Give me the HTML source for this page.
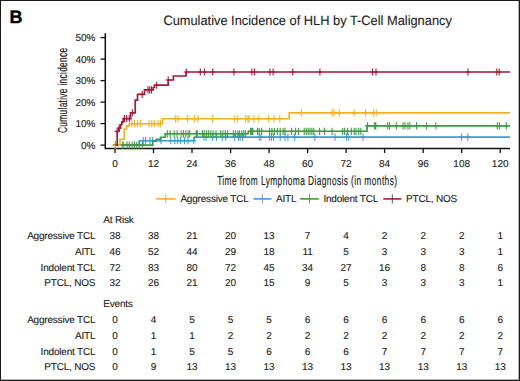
<!DOCTYPE html>
<html><head><meta charset="utf-8"><style>
html,body{margin:0;padding:0;background:#fff;}
#wrap{position:relative;width:520px;height:381px;overflow:hidden;background:#fff;}
#wrap:after{content:"";position:absolute;left:0;top:0;right:0;bottom:0;border:1px solid #1a1a1a;box-shadow:inset -1px -1px 0 rgba(0,0,0,0.3);}
svg{position:absolute;left:0;top:0;}
text{font-family:"Liberation Sans",sans-serif;fill:#222;stroke:#222;stroke-width:0.12px;text-rendering:geometricPrecision;}
.tk{font-size:10px;}
.lg{font-size:10px;letter-spacing:-0.2px;}
.tb{font-size:10px;letter-spacing:-0.2px;}
.tn{font-size:10px;}
.ti{font-size:13.5px;stroke:#222;stroke-width:0.1px;}
.ax{font-size:13px;stroke:#222;stroke-width:0.18px;}
.B{font-size:18px;font-weight:bold;fill:#000;stroke:#000;stroke-width:0.35px;}
</style></head><body><div id="wrap">
<svg width="520" height="381" viewBox="0 0 520 381">
<path d="M105.3 33.3V148.4H510" fill="none" stroke="#111" stroke-width="1.5"/>
<path d="M100.5 37.6H105" stroke="#111" stroke-width="1.3"/>
<text x="95.5" y="41.2" text-anchor="end" class="tk">50%</text>
<path d="M100.5 59.1H105" stroke="#111" stroke-width="1.3"/>
<text x="95.5" y="62.7" text-anchor="end" class="tk">40%</text>
<path d="M100.5 80.6H105" stroke="#111" stroke-width="1.3"/>
<text x="95.5" y="84.2" text-anchor="end" class="tk">30%</text>
<path d="M100.5 102.1H105" stroke="#111" stroke-width="1.3"/>
<text x="95.5" y="105.7" text-anchor="end" class="tk">20%</text>
<path d="M100.5 123.6H105" stroke="#111" stroke-width="1.3"/>
<text x="95.5" y="127.2" text-anchor="end" class="tk">10%</text>
<path d="M100.5 145.1H105" stroke="#111" stroke-width="1.3"/>
<text x="95.5" y="148.7" text-anchor="end" class="tk">0%</text>
<path d="M115.0 148.4V153.1" stroke="#111" stroke-width="1.3"/>
<text x="115.0" y="166.7" text-anchor="middle" class="tk">0</text>
<path d="M153.5 148.4V153.1" stroke="#111" stroke-width="1.3"/>
<text x="153.5" y="166.7" text-anchor="middle" class="tk">12</text>
<path d="M192.0 148.4V153.1" stroke="#111" stroke-width="1.3"/>
<text x="192.0" y="166.7" text-anchor="middle" class="tk">24</text>
<path d="M230.6 148.4V153.1" stroke="#111" stroke-width="1.3"/>
<text x="230.6" y="166.7" text-anchor="middle" class="tk">36</text>
<path d="M269.1 148.4V153.1" stroke="#111" stroke-width="1.3"/>
<text x="269.1" y="166.7" text-anchor="middle" class="tk">48</text>
<path d="M307.6 148.4V153.1" stroke="#111" stroke-width="1.3"/>
<text x="307.6" y="166.7" text-anchor="middle" class="tk">60</text>
<path d="M346.1 148.4V153.1" stroke="#111" stroke-width="1.3"/>
<text x="346.1" y="166.7" text-anchor="middle" class="tk">72</text>
<path d="M384.6 148.4V153.1" stroke="#111" stroke-width="1.3"/>
<text x="384.6" y="166.7" text-anchor="middle" class="tk">84</text>
<path d="M423.2 148.4V153.1" stroke="#111" stroke-width="1.3"/>
<text x="423.2" y="166.7" text-anchor="middle" class="tk">96</text>
<path d="M461.7 148.4V153.1" stroke="#111" stroke-width="1.3"/>
<text x="461.7" y="166.7" text-anchor="middle" class="tk">108</text>
<path d="M500.2 148.4V153.1" stroke="#111" stroke-width="1.3"/>
<text x="500.2" y="166.7" text-anchor="middle" class="tk">120</text>
<path d="M115.5 145.1H139.3V140.7H194.4V137.1H510" fill="none" stroke="#3a9dd8" stroke-width="1.6"/>
<path d="M122.8 141.5V148.7M120.2 145.1H125.4M143.2 137.1V144.3M140.6 140.7H145.8M145.5 137.1V144.3M142.9 140.7H148.1M150.0 137.1V144.3M147.4 140.7H152.6M152.4 137.1V144.3M149.8 140.7H155.0M161.0 137.1V144.3M158.4 140.7H163.6M170.8 137.1V144.3M168.2 140.7H173.4M174.8 137.1V144.3M172.2 140.7H177.4M177.7 137.1V144.3M175.1 140.7H180.3M180.6 137.1V144.3M178.0 140.7H183.2M184.6 137.1V144.3M182.0 140.7H187.2M188.0 137.1V144.3M185.4 140.7H190.6M193.8 137.1V144.3M191.2 140.7H196.4M204.0 133.5V140.7M201.4 137.1H206.6M206.2 133.5V140.7M203.6 137.1H208.8M212.5 133.5V140.7M209.9 137.1H215.1M216.5 133.5V140.7M213.9 137.1H219.1M222.3 133.5V140.7M219.7 137.1H224.9M225.8 133.5V140.7M223.2 137.1H228.4M234.4 133.5V140.7M231.8 137.1H237.0M238.5 133.5V140.7M235.9 137.1H241.1M240.2 133.5V140.7M237.6 137.1H242.8M242.5 133.5V140.7M239.9 137.1H245.1M259.2 133.5V140.7M256.6 137.1H261.8M261.0 133.5V140.7M258.4 137.1H263.6M269.6 133.5V140.7M267.0 137.1H272.2M271.5 133.5V140.7M268.9 137.1H274.1M273.5 133.5V140.7M270.9 137.1H276.1M280.2 133.5V140.7M277.6 137.1H282.8M285.0 133.5V140.7M282.4 137.1H287.6M287.9 133.5V140.7M285.3 137.1H290.5M294.6 133.5V140.7M292.0 137.1H297.2M314.8 133.5V140.7M312.2 137.1H317.4M335.0 133.5V140.7M332.4 137.1H337.6M346.5 133.5V140.7M343.9 137.1H349.1M348.8 133.5V140.7M346.2 137.1H351.4M363.0 133.5V140.7M360.4 137.1H365.6M461.6 133.5V140.7M459.0 137.1H464.2M467.8 133.5V140.7M465.2 137.1H470.4" fill="none" stroke="#3a9dd8" stroke-width="1.1"/>
<path d="M115.5 145.1H152.8V141.3H156.0V139.2H160.5V137.2H165.2V133.8H248.3V131.3H367.0V125.9H510" fill="none" stroke="#3f9a45" stroke-width="1.6"/>
<path d="M115.4 141.0V148.2M112.8 144.6H118.0M123.0 141.5V148.7M120.4 145.1H125.6M127.0 141.5V148.7M124.4 145.1H129.6M129.3 141.5V148.7M126.7 145.1H131.9M132.2 141.5V148.7M129.6 145.1H134.8M134.5 141.5V148.7M131.9 145.1H137.1M136.8 141.5V148.7M134.2 145.1H139.4M139.2 141.5V148.7M136.6 145.1H141.8M142.6 141.5V148.7M140.0 145.1H145.2M167.3 130.2V137.4M164.7 133.8H169.9M170.2 130.2V137.4M167.6 133.8H172.8M174.2 130.2V137.4M171.6 133.8H176.8M177.1 130.2V137.4M174.5 133.8H179.7M181.2 130.2V137.4M178.6 133.8H183.8M183.5 130.2V137.4M180.9 133.8H186.1M185.8 130.2V137.4M183.2 133.8H188.4M188.1 130.2V137.4M185.5 133.8H190.7M189.8 130.2V137.4M187.2 133.8H192.4M196.2 130.2V137.4M193.6 133.8H198.8M197.3 130.2V137.4M194.7 133.8H199.9M202.5 130.2V137.4M199.9 133.8H205.1M204.2 130.2V137.4M201.6 133.8H206.8M206.6 130.2V137.4M204.0 133.8H209.2M208.5 130.2V137.4M205.9 133.8H211.1M210.8 130.2V137.4M208.2 133.8H213.4M213.1 130.2V137.4M210.5 133.8H215.7M216.0 130.2V137.4M213.4 133.8H218.6M220.6 130.2V137.4M218.0 133.8H223.2M222.9 130.2V137.4M220.3 133.8H225.5M225.2 130.2V137.4M222.6 133.8H227.8M227.5 130.2V137.4M224.9 133.8H230.1M233.3 130.2V137.4M230.7 133.8H235.9M235.6 130.2V137.4M233.0 133.8H238.2M237.9 130.2V137.4M235.3 133.8H240.5M239.6 130.2V137.4M237.0 133.8H242.2M241.9 130.2V137.4M239.3 133.8H244.5M243.7 130.2V137.4M241.1 133.8H246.3M245.4 130.2V137.4M242.8 133.8H248.0M250.6 127.7V134.9M248.0 131.3H253.2M251.7 127.7V134.9M249.1 131.3H254.3M252.9 127.7V134.9M250.3 131.3H255.5M257.5 127.7V134.9M254.9 131.3H260.1M259.2 127.7V134.9M256.6 131.3H261.8M261.7 127.7V134.9M259.1 131.3H264.3M269.6 127.7V134.9M267.0 131.3H272.2M271.9 127.7V134.9M269.3 131.3H274.5M274.4 127.7V134.9M271.8 131.3H277.0M277.3 127.7V134.9M274.7 131.3H279.9M280.2 127.7V134.9M277.6 131.3H282.8M283.1 127.7V134.9M280.5 131.3H285.7M285.0 127.7V134.9M282.4 131.3H287.6M291.7 127.7V134.9M289.1 131.3H294.3M295.6 127.7V134.9M293.0 131.3H298.2M298.5 127.7V134.9M295.9 131.3H301.1M304.2 127.7V134.9M301.6 131.3H306.8M306.2 127.7V134.9M303.6 131.3H308.8M308.1 127.7V134.9M305.5 131.3H310.7M310.0 127.7V134.9M307.4 131.3H312.6M311.9 127.7V134.9M309.3 131.3H314.5M313.8 127.7V134.9M311.2 131.3H316.4M319.6 127.7V134.9M317.0 131.3H322.2M324.4 127.7V134.9M321.8 131.3H327.0M332.1 127.7V134.9M329.5 131.3H334.7M342.7 127.7V134.9M340.1 131.3H345.3M344.6 127.7V134.9M342.0 131.3H347.2M347.5 127.7V134.9M344.9 131.3H350.1M351.3 127.7V134.9M348.7 131.3H353.9M354.2 127.7V134.9M351.6 131.3H356.8M356.0 127.7V134.9M353.4 131.3H358.6M358.8 127.7V134.9M356.2 131.3H361.4M360.8 127.7V134.9M358.2 131.3H363.4M367.5 122.3V129.5M364.9 125.9H370.1M374.6 122.3V129.5M372.0 125.9H377.2M375.8 122.3V129.5M373.2 125.9H378.4M387.7 122.3V129.5M385.1 125.9H390.3M389.6 122.3V129.5M387.0 125.9H392.2M396.3 122.3V129.5M393.7 125.9H398.9M403.0 122.3V129.5M400.4 125.9H405.6M405.0 122.3V129.5M402.4 125.9H407.6M407.9 122.3V129.5M405.3 125.9H410.5M409.8 122.3V129.5M407.2 125.9H412.4M416.5 122.3V129.5M413.9 125.9H419.1M426.5 122.3V129.5M423.9 125.9H429.1M435.8 122.3V129.5M433.2 125.9H438.4M497.3 122.3V129.5M494.7 125.9H499.9M499.4 122.3V129.5M496.8 125.9H502.0M506.3 122.3V129.5M503.7 125.9H508.9" fill="none" stroke="#3f9a45" stroke-width="1.1"/>
<path d="M115.5 145.1H120.0V139.3H124.2V129.0H126.6V125.9H129.3V123.7H162.5V118.8H289.2V112.9H510" fill="none" stroke="#efb31c" stroke-width="1.6"/>
<path d="M115.2 141.7V148.9M112.6 145.3H117.8M131.8 120.1V127.3M129.2 123.7H134.4M134.4 120.1V127.3M131.8 123.7H137.0M137.6 120.1V127.3M135.0 123.7H140.2M140.7 120.1V127.3M138.1 123.7H143.3M149.1 120.1V127.3M146.5 123.7H151.7M151.8 120.1V127.3M149.2 123.7H154.4M154.4 120.1V127.3M151.8 123.7H157.0M158.1 120.1V127.3M155.5 123.7H160.7M160.4 120.1V127.3M157.8 123.7H163.0M175.6 115.2V122.4M173.0 118.8H178.2M177.9 115.2V122.4M175.3 118.8H180.5M187.5 115.2V122.4M184.9 118.8H190.1M194.6 115.2V122.4M192.0 118.8H197.2M198.0 115.2V122.4M195.4 118.8H200.6M212.6 115.2V122.4M210.0 118.8H215.2M234.7 115.2V122.4M232.1 118.8H237.3M237.6 115.2V122.4M235.0 118.8H240.2M245.5 115.2V122.4M242.9 118.8H248.1M247.8 115.2V122.4M245.2 118.8H250.4M249.2 115.2V122.4M246.6 118.8H251.8M254.0 115.2V122.4M251.4 118.8H256.6M258.8 115.2V122.4M256.2 118.8H261.4M268.6 115.2V122.4M266.0 118.8H271.2M274.0 115.2V122.4M271.4 118.8H276.6M279.8 115.2V122.4M277.2 118.8H282.4M301.3 109.3V116.5M298.7 112.9H303.9M332.1 109.3V116.5M329.5 112.9H334.7M334.0 109.3V116.5M331.4 112.9H336.6M339.2 109.3V116.5M336.6 112.9H341.8M354.2 109.3V116.5M351.6 112.9H356.8M365.6 109.3V116.5M363.0 112.9H368.2M373.3 109.3V116.5M370.7 112.9H375.9M376.2 109.3V116.5M373.6 112.9H378.8" fill="none" stroke="#efb31c" stroke-width="1.1"/>
<path d="M115.5 145.1H117.2V131.4H118.8V128.0H120.4V124.6H121.9V121.8H123.3V118.7H130.6V112.8H135.2V100.2H137.5V94.4H144.5V89.8H153.2V87.5H154.5V85.2H168.2V80.0H173.4V76.0H186.0V72.0H510" fill="none" stroke="#a31a3b" stroke-width="1.7"/>
<path d="M117.2 127.8V135.0M114.6 131.4H119.8M119.2 124.4V131.6M116.6 128.0H121.8M124.5 115.1V122.3M121.9 118.7H127.1M126.7 115.1V122.3M124.1 118.7H129.3M129.3 115.1V122.3M126.7 118.7H131.9M132.3 109.2V116.4M129.7 112.8H134.9M142.2 90.8V98.0M139.6 94.4H144.8M148.0 86.2V93.4M145.4 89.8H150.6M149.7 86.2V93.4M147.1 89.8H152.3M151.5 86.2V93.4M148.9 89.8H154.1M156.7 81.6V88.8M154.1 85.2H159.3M168.2 76.4V83.6M165.6 80.0H170.8M186.3 68.4V75.6M183.7 72.0H188.9M200.3 68.4V75.6M197.7 72.0H202.9M204.5 68.4V75.6M201.9 72.0H207.1M212.7 68.4V75.6M210.1 72.0H215.3M233.9 68.4V75.6M231.3 72.0H236.5M251.9 68.4V75.6M249.3 72.0H254.5M254.5 68.4V75.6M251.9 72.0H257.1M269.9 68.4V75.6M267.3 72.0H272.5M273.1 68.4V75.6M270.5 72.0H275.7M292.7 68.4V75.6M290.1 72.0H295.3M319.9 68.4V75.6M317.3 72.0H322.5M372.6 68.4V75.6M370.0 72.0H375.2M376.0 68.4V75.6M373.4 72.0H378.6M467.9 68.4V75.6M465.3 72.0H470.5M496.8 68.4V75.6M494.2 72.0H499.4M499.2 68.4V75.6M496.6 72.0H501.8" fill="none" stroke="#a31a3b" stroke-width="1.1"/>
<path d="M156 198.9H175.6" stroke="#efb31c" stroke-width="1.6" fill="none"/><path d="M165.8 194.3V203.4" stroke="#a9a98f" stroke-width="0.9" fill="none"/>
<text x="180.4" y="201.9" class="lg">Aggressive TCL</text>
<path d="M253.5 198.9H271.3" stroke="#3a9dd8" stroke-width="1.6" fill="none"/><path d="M262.4 194.3V203.4" stroke="#6f8a9a" stroke-width="0.9" fill="none"/>
<text x="276.0" y="201.9" class="lg">AITL</text>
<path d="M300.2 198.9H318.8" stroke="#3f9a45" stroke-width="1.6" fill="none"/><path d="M309.5 194.3V203.4" stroke="#5f7f5f" stroke-width="0.9" fill="none"/>
<text x="323.4" y="201.9" class="lg">Indolent TCL</text>
<path d="M383.3 198.9H401.3" stroke="#a31a3b" stroke-width="1.6" fill="none"/><path d="M392.3 194.3V203.4" stroke="#4a3a3e" stroke-width="0.9" fill="none"/>
<text x="406.1" y="201.9" class="lg">PTCL, NOS</text>
<text x="0" y="0" text-anchor="middle" class="ti" transform="translate(307.6 24.7) scale(0.95 1)">Cumulative Incidence of HLH by T-Cell Malignancy</text>
<text x="307.3" y="184.8" text-anchor="middle" class="ax" style="letter-spacing:0.62px" transform="translate(307.3 0) scale(0.645 1) translate(-307.3 0)">Time from Lymphoma Diagnosis (in months)</text>
<text x="0" y="0" text-anchor="middle" class="ax" style="letter-spacing:0.45px" transform="translate(66.9 90.3) rotate(-90) scale(0.645 1)">Cumulative incidence</text>
<text x="9.6" y="23.3" class="B">B</text>
<text x="103.3" y="222.6" class="tb">At Risk</text>
<text x="95.3" y="239.3" text-anchor="end" class="tb">Aggressive TCL</text>
<text x="115.0" y="239.3" text-anchor="middle" class="tn">38</text>
<text x="153.5" y="239.3" text-anchor="middle" class="tn">38</text>
<text x="192.0" y="239.3" text-anchor="middle" class="tn">21</text>
<text x="230.6" y="239.3" text-anchor="middle" class="tn">20</text>
<text x="269.1" y="239.3" text-anchor="middle" class="tn">13</text>
<text x="307.6" y="239.3" text-anchor="middle" class="tn">7</text>
<text x="346.1" y="239.3" text-anchor="middle" class="tn">4</text>
<text x="384.6" y="239.3" text-anchor="middle" class="tn">2</text>
<text x="423.2" y="239.3" text-anchor="middle" class="tn">2</text>
<text x="461.7" y="239.3" text-anchor="middle" class="tn">2</text>
<text x="500.2" y="239.3" text-anchor="middle" class="tn">1</text>
<text x="95.3" y="254.9" text-anchor="end" class="tb">AITL</text>
<text x="115.0" y="254.9" text-anchor="middle" class="tn">46</text>
<text x="153.5" y="254.9" text-anchor="middle" class="tn">52</text>
<text x="192.0" y="254.9" text-anchor="middle" class="tn">44</text>
<text x="230.6" y="254.9" text-anchor="middle" class="tn">29</text>
<text x="269.1" y="254.9" text-anchor="middle" class="tn">18</text>
<text x="307.6" y="254.9" text-anchor="middle" class="tn">11</text>
<text x="346.1" y="254.9" text-anchor="middle" class="tn">5</text>
<text x="384.6" y="254.9" text-anchor="middle" class="tn">3</text>
<text x="423.2" y="254.9" text-anchor="middle" class="tn">3</text>
<text x="461.7" y="254.9" text-anchor="middle" class="tn">3</text>
<text x="500.2" y="254.9" text-anchor="middle" class="tn">1</text>
<text x="95.3" y="270.6" text-anchor="end" class="tb">Indolent TCL</text>
<text x="115.0" y="270.6" text-anchor="middle" class="tn">72</text>
<text x="153.5" y="270.6" text-anchor="middle" class="tn">83</text>
<text x="192.0" y="270.6" text-anchor="middle" class="tn">80</text>
<text x="230.6" y="270.6" text-anchor="middle" class="tn">72</text>
<text x="269.1" y="270.6" text-anchor="middle" class="tn">45</text>
<text x="307.6" y="270.6" text-anchor="middle" class="tn">34</text>
<text x="346.1" y="270.6" text-anchor="middle" class="tn">27</text>
<text x="384.6" y="270.6" text-anchor="middle" class="tn">16</text>
<text x="423.2" y="270.6" text-anchor="middle" class="tn">8</text>
<text x="461.7" y="270.6" text-anchor="middle" class="tn">8</text>
<text x="500.2" y="270.6" text-anchor="middle" class="tn">6</text>
<text x="95.3" y="286.2" text-anchor="end" class="tb">PTCL, NOS</text>
<text x="115.0" y="286.2" text-anchor="middle" class="tn">32</text>
<text x="153.5" y="286.2" text-anchor="middle" class="tn">26</text>
<text x="192.0" y="286.2" text-anchor="middle" class="tn">21</text>
<text x="230.6" y="286.2" text-anchor="middle" class="tn">20</text>
<text x="269.1" y="286.2" text-anchor="middle" class="tn">15</text>
<text x="307.6" y="286.2" text-anchor="middle" class="tn">9</text>
<text x="346.1" y="286.2" text-anchor="middle" class="tn">5</text>
<text x="384.6" y="286.2" text-anchor="middle" class="tn">3</text>
<text x="423.2" y="286.2" text-anchor="middle" class="tn">3</text>
<text x="461.7" y="286.2" text-anchor="middle" class="tn">3</text>
<text x="500.2" y="286.2" text-anchor="middle" class="tn">1</text>
<text x="103.3" y="306.6" class="tb">Events</text>
<text x="95.3" y="323.1" text-anchor="end" class="tb">Aggressive TCL</text>
<text x="115.0" y="323.1" text-anchor="middle" class="tn">0</text>
<text x="153.5" y="323.1" text-anchor="middle" class="tn">4</text>
<text x="192.0" y="323.1" text-anchor="middle" class="tn">5</text>
<text x="230.6" y="323.1" text-anchor="middle" class="tn">5</text>
<text x="269.1" y="323.1" text-anchor="middle" class="tn">5</text>
<text x="307.6" y="323.1" text-anchor="middle" class="tn">6</text>
<text x="346.1" y="323.1" text-anchor="middle" class="tn">6</text>
<text x="384.6" y="323.1" text-anchor="middle" class="tn">6</text>
<text x="423.2" y="323.1" text-anchor="middle" class="tn">6</text>
<text x="461.7" y="323.1" text-anchor="middle" class="tn">6</text>
<text x="500.2" y="323.1" text-anchor="middle" class="tn">6</text>
<text x="95.3" y="338.9" text-anchor="end" class="tb">AITL</text>
<text x="115.0" y="338.9" text-anchor="middle" class="tn">0</text>
<text x="153.5" y="338.9" text-anchor="middle" class="tn">1</text>
<text x="192.0" y="338.9" text-anchor="middle" class="tn">1</text>
<text x="230.6" y="338.9" text-anchor="middle" class="tn">2</text>
<text x="269.1" y="338.9" text-anchor="middle" class="tn">2</text>
<text x="307.6" y="338.9" text-anchor="middle" class="tn">2</text>
<text x="346.1" y="338.9" text-anchor="middle" class="tn">2</text>
<text x="384.6" y="338.9" text-anchor="middle" class="tn">2</text>
<text x="423.2" y="338.9" text-anchor="middle" class="tn">2</text>
<text x="461.7" y="338.9" text-anchor="middle" class="tn">2</text>
<text x="500.2" y="338.9" text-anchor="middle" class="tn">2</text>
<text x="95.3" y="354.6" text-anchor="end" class="tb">Indolent TCL</text>
<text x="115.0" y="354.6" text-anchor="middle" class="tn">0</text>
<text x="153.5" y="354.6" text-anchor="middle" class="tn">1</text>
<text x="192.0" y="354.6" text-anchor="middle" class="tn">5</text>
<text x="230.6" y="354.6" text-anchor="middle" class="tn">5</text>
<text x="269.1" y="354.6" text-anchor="middle" class="tn">6</text>
<text x="307.6" y="354.6" text-anchor="middle" class="tn">6</text>
<text x="346.1" y="354.6" text-anchor="middle" class="tn">6</text>
<text x="384.6" y="354.6" text-anchor="middle" class="tn">7</text>
<text x="423.2" y="354.6" text-anchor="middle" class="tn">7</text>
<text x="461.7" y="354.6" text-anchor="middle" class="tn">7</text>
<text x="500.2" y="354.6" text-anchor="middle" class="tn">7</text>
<text x="95.3" y="370.2" text-anchor="end" class="tb">PTCL, NOS</text>
<text x="115.0" y="370.2" text-anchor="middle" class="tn">0</text>
<text x="153.5" y="370.2" text-anchor="middle" class="tn">9</text>
<text x="192.0" y="370.2" text-anchor="middle" class="tn">13</text>
<text x="230.6" y="370.2" text-anchor="middle" class="tn">13</text>
<text x="269.1" y="370.2" text-anchor="middle" class="tn">13</text>
<text x="307.6" y="370.2" text-anchor="middle" class="tn">13</text>
<text x="346.1" y="370.2" text-anchor="middle" class="tn">13</text>
<text x="384.6" y="370.2" text-anchor="middle" class="tn">13</text>
<text x="423.2" y="370.2" text-anchor="middle" class="tn">13</text>
<text x="461.7" y="370.2" text-anchor="middle" class="tn">13</text>
<text x="500.2" y="370.2" text-anchor="middle" class="tn">13</text>
</svg></div></body></html>
